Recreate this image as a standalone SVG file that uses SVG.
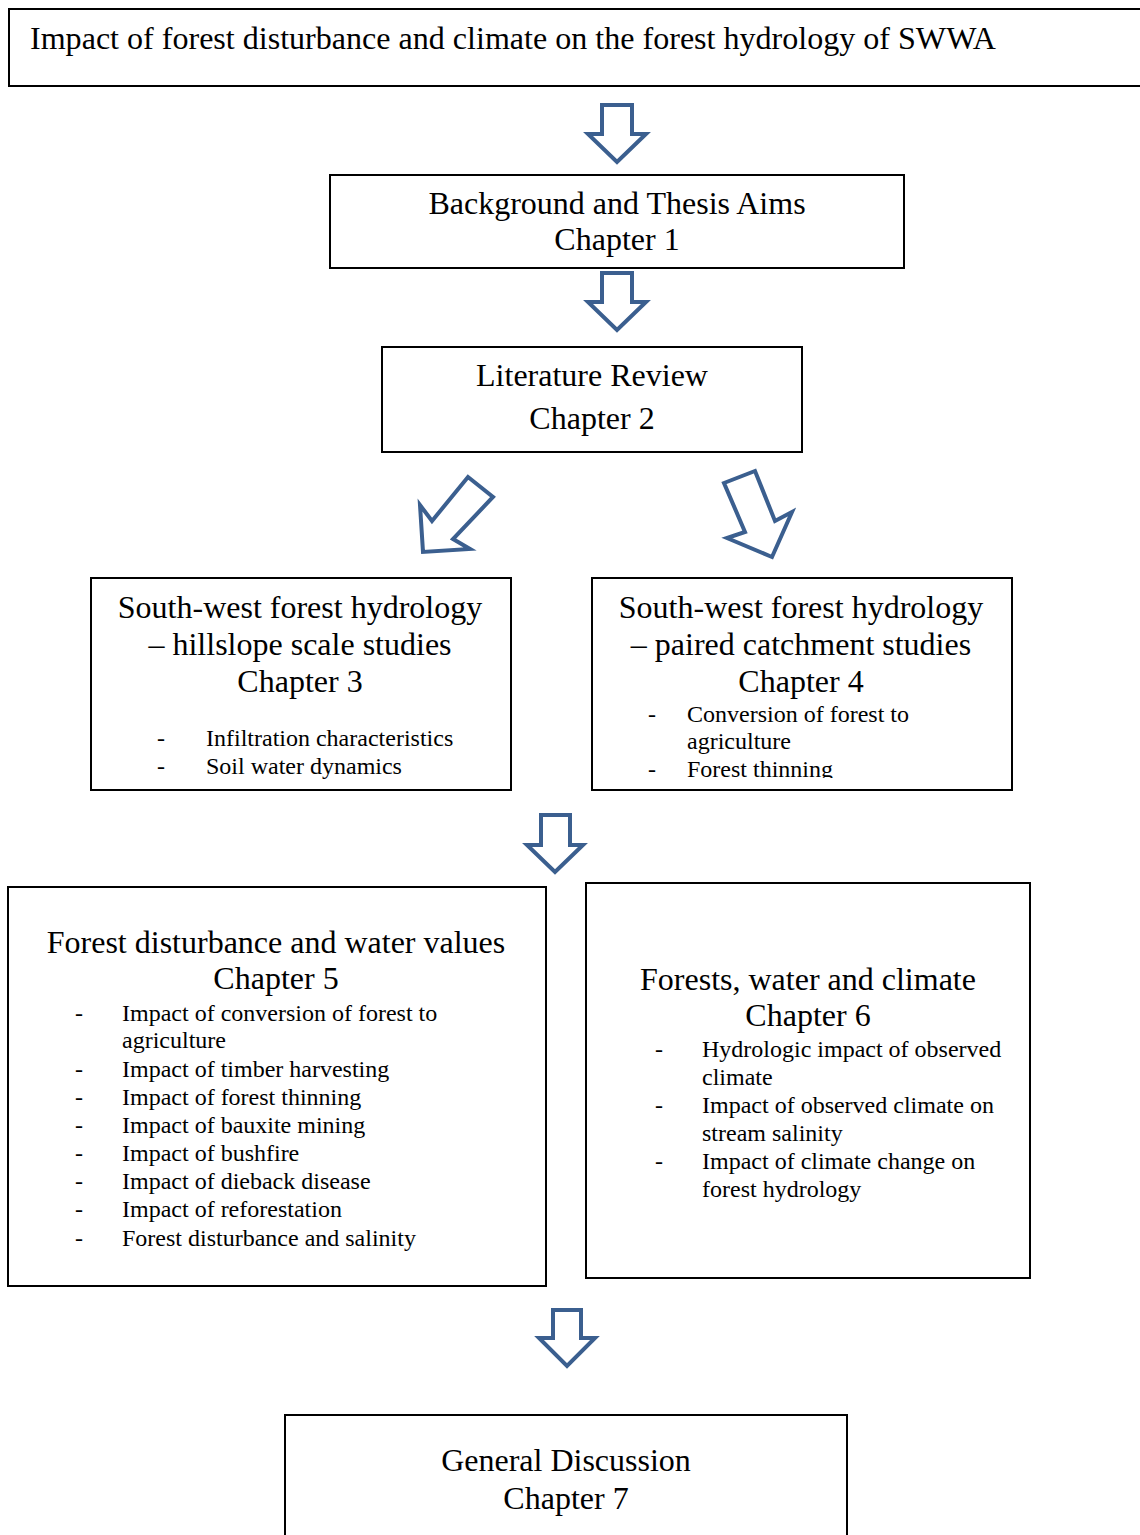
<svg xmlns="http://www.w3.org/2000/svg" width="1140" height="1535" viewBox="0 0 1140 1535">
<style>
.box{fill:#fff;stroke:#000;stroke-width:2}
.h{font-family:"Liberation Serif","Times New Roman",serif;font-size:32px;fill:#000;text-anchor:middle}
.t{font-family:"Liberation Serif","Times New Roman",serif;font-size:31px;fill:#000}
.b{font-family:"Liberation Serif","Times New Roman",serif;font-size:24px;fill:#000}
.arr{fill:#fff;stroke:#3B5F8F;stroke-width:4;stroke-linejoin:miter}
</style>
<defs>
<clipPath id="c4"><rect x="593" y="579" width="418" height="199"/></clipPath>
</defs>
<rect width="1140" height="1535" fill="#fff"/>
<g id="connectors">
<polygon class="arr" points="602,105 632,105 632,134 646,134 617,162 588,134 602,134"/>
<polygon class="arr" points="602,273 632,273 632,302 646,302 617,330 588,302 602,302"/>
<polygon class="arr" points="468,477 493,497 453,539 470,549 423,552 420,505 432,521"/>
<polygon class="arr" points="724,483 755,471 775,521 792,512 772,557 727,538 745,532"/>
<polygon class="arr" points="541,815 570,815 570,845 583,845 555,872 527,845 541,845"/>
<polygon class="arr" points="553,1310 581,1310 581,1338 595,1338 567,1366 539,1338 553,1338"/>
</g>
<g id="title">
<rect class="box" x="9" y="9" width="1140" height="77"/>
<text class="t" x="30" y="49" textLength="966" lengthAdjust="spacingAndGlyphs">Impact of forest disturbance and climate on the forest hydrology of SWWA</text>
</g>
<g id="ch1">
<rect class="box" x="330" y="175" width="574" height="93"/>
<text class="h" x="617" y="214">Background and Thesis Aims</text>
<text class="h" x="617" y="250">Chapter 1</text>
</g>
<g id="ch2">
<rect class="box" x="382" y="347" width="420" height="105"/>
<text class="h" x="592" y="386">Literature Review</text>
<text class="h" x="592" y="429">Chapter 2</text>
</g>
<g id="ch3">
<rect class="box" x="91" y="578" width="420" height="212"/>
<text class="h" x="300" y="618">South-west forest hydrology</text>
<text class="h" x="300" y="655">– hillslope scale studies</text>
<text class="h" x="300" y="692">Chapter 3</text>
<text class="b" x="157" y="746">-</text><text class="b" x="206" y="746">Infiltration characteristics</text>
<text class="b" x="157" y="774">-</text><text class="b" x="206" y="774">Soil water dynamics</text>
</g>
<g id="ch4">
<rect class="box" x="592" y="578" width="420" height="212"/>
<text class="h" x="801" y="618">South-west forest hydrology</text>
<text class="h" x="801" y="655">– paired catchment studies</text>
<text class="h" x="801" y="692">Chapter 4</text>
<g clip-path="url(#c4)">
<text class="b" x="648" y="722">-</text><text class="b" x="687" y="722">Conversion of forest to</text>
<text class="b" x="687" y="749">agriculture</text>
<text class="b" x="648" y="777">-</text><text class="b" x="687" y="777">Forest thinning</text>
</g>
</g>
<g id="ch5">
<rect class="box" x="8" y="887" width="538" height="399"/>
<text class="h" x="276" y="953">Forest disturbance and water values</text>
<text class="h" x="276" y="989">Chapter 5</text>
<text class="b" x="75" y="1021">-</text><text class="b" x="122" y="1021">Impact of conversion of forest to</text>
<text class="b" x="122" y="1048">agriculture</text>
<text class="b" x="75" y="1077">-</text><text class="b" x="122" y="1077">Impact of timber harvesting</text>
<text class="b" x="75" y="1105">-</text><text class="b" x="122" y="1105">Impact of forest thinning</text>
<text class="b" x="75" y="1133">-</text><text class="b" x="122" y="1133">Impact of bauxite mining</text>
<text class="b" x="75" y="1161">-</text><text class="b" x="122" y="1161">Impact of bushfire</text>
<text class="b" x="75" y="1189">-</text><text class="b" x="122" y="1189">Impact of dieback disease</text>
<text class="b" x="75" y="1217">-</text><text class="b" x="122" y="1217">Impact of reforestation</text>
<text class="b" x="75" y="1246">-</text><text class="b" x="122" y="1246">Forest disturbance and salinity</text>
</g>
<g id="ch6">
<rect class="box" x="586" y="883" width="444" height="395"/>
<text class="h" x="808" y="990">Forests, water and climate</text>
<text class="h" x="808" y="1026">Chapter 6</text>
<text class="b" x="655" y="1057">-</text><text class="b" x="702" y="1057">Hydrologic impact of observed</text>
<text class="b" x="702" y="1085">climate</text>
<text class="b" x="655" y="1113">-</text><text class="b" x="702" y="1113">Impact of observed climate on</text>
<text class="b" x="702" y="1141">stream salinity</text>
<text class="b" x="655" y="1169">-</text><text class="b" x="702" y="1169">Impact of climate change on</text>
<text class="b" x="702" y="1197">forest hydrology</text>
</g>
<g id="ch7">
<rect class="box" x="285" y="1415" width="562" height="140"/>
<text class="h" x="566" y="1471">General Discussion</text>
<text class="h" x="566" y="1509">Chapter 7</text>
</g>
</svg>
